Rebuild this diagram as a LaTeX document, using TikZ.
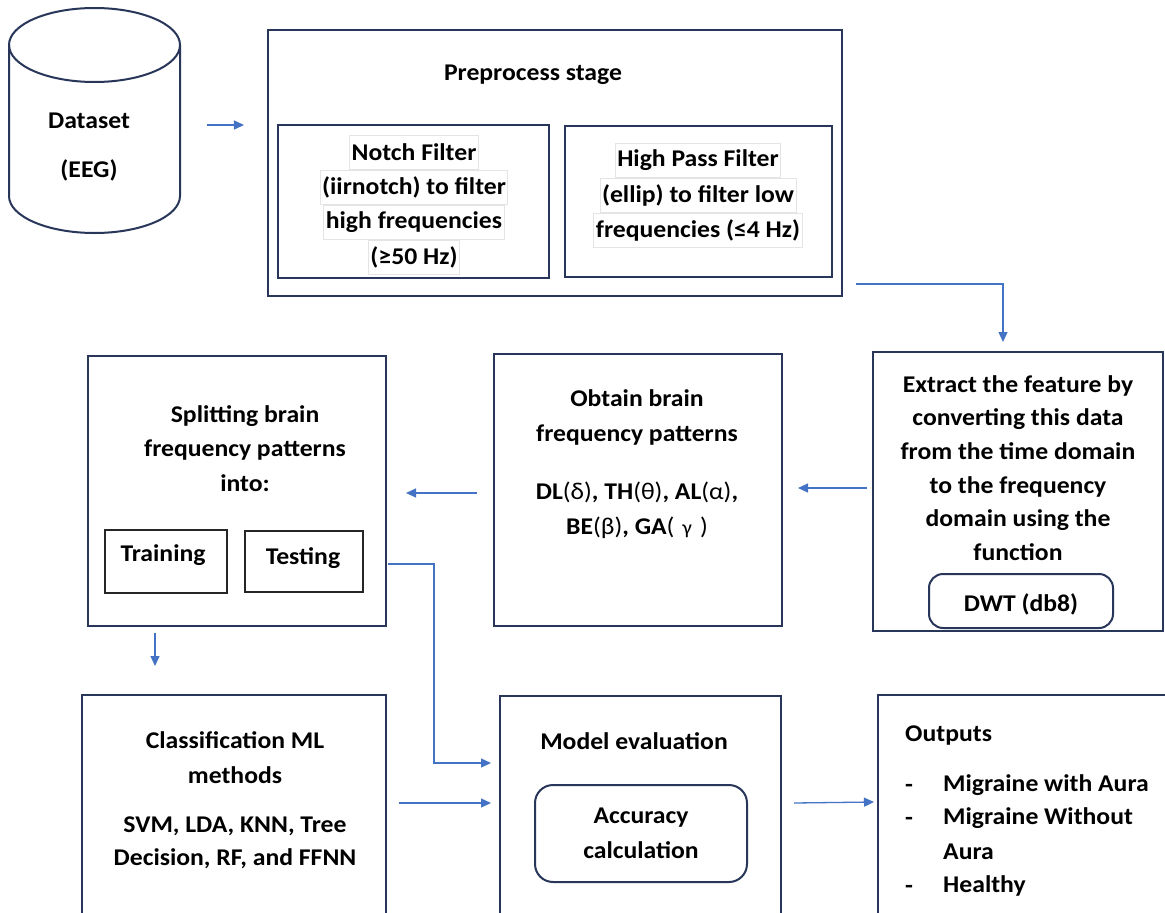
\documentclass[tikz,border=0pt]{standalone}
\usepackage{fontspec}
\setmainfont{Carlito}[FakeStretch=1.07]
\usetikzlibrary{arrows.meta}
\definecolor{navy}{RGB}{40,54,90}
\definecolor{arrblue}{RGB}{68,114,196}
\definecolor{hl}{RGB}{228,228,228}
\begin{document}
\begin{tikzpicture}[x=1bp,y=-1bp,
  font=\fontsize{24bp}{35bp}\selectfont\bfseries,
  box/.style={draw=navy,line width=2bp,inner sep=0pt},
  sub/.style={draw=black!85,line width=1.1bp,inner sep=0pt},
  rbox/.style={draw=navy,line width=2bp,rounded corners=14bp,inner sep=0pt},
  txt/.style={align=center,inner sep=0pt},
  hlline/.style={draw=hl,line width=0.8bp,inner xsep=2bp,inner ysep=0pt,minimum height=34bp},
  arr/.style={draw=arrblue,line width=1.3bp,-{Triangle[length=10bp,width=9bp]}},
  cyl/.style={draw=navy,line width=2bp}
]
\useasboundingbox (0,0) rectangle (1165,913);
\clip (0,0) rectangle (1165,913);
\fill[white] (0,0) rectangle (1165,913);

% Dataset cylinder
\node[minimum width=171bp,minimum height=225bp,inner sep=0pt] (dataset) at (94.5,120.5) {};
\draw[cyl] (94.5,45) ellipse [x radius=85.5bp,y radius=37bp];
\draw[cyl] (9,45) -- (9,196) arc[start angle=180,end angle=360,x radius=85.5bp,y radius=37bp] -- (180,45);
\node[txt] (dstext) at (89,121) {Dataset};
\node[txt] (eegtext) at (89,170) {(EEG)};

% Preprocess stage
\node[box,minimum width=574bp,minimum height=266bp] (pre) at (555,163) {};
\node[txt] (pretitle) at (533,75) {Preprocess stage};
\node[box,minimum width=271bp,minimum height=153bp] (notch) at (413.5,201.5) {};
\node[hlline] (n1) at (414,152) {Notch Filter};
\node[hlline] (n2) at (414,187) {(iirnotch) to filter};
\node[hlline] (n3) at (414,222) {high frequencies};
\node[hlline] (n4) at (414,257) {(≥50 Hz)};
\node[box,minimum width=267bp,minimum height=151bp] (hpf) at (698.5,201.5) {};
\node[hlline] (h1) at (698,160) {High Pass Filter};
\node[hlline] (h2) at (698,195) {(ellip) to filter low};
\node[hlline] (h3) at (698,230) {frequencies (≤4 Hz)};

% Extract feature
\node[box,minimum width=290bp,minimum height=279bp] (extract) at (1018,491.5) {};
\node[txt,font=\fontsize{24bp}{33.6bp}\selectfont\bfseries] (extext) at (1018,468)
  {Extract the feature by\\converting this data\\from the time domain\\to the frequency\\domain using the\\function};
\node[rbox,minimum width=184bp,minimum height=54bp] (dwt) at (1021,601) {};
\node[txt] (dwttext) at (1021,604) {DWT (db8)};

% Obtain brain frequency patterns
\node[box,minimum width=288bp,minimum height=272bp] (obtain) at (638,490) {};
\node[txt] (obtext) at (637,417.5) {Obtain brain\\frequency patterns};
\node[txt] (greek) at (637,510) {DL{\mdseries(δ)}, TH{\mdseries(θ)}, AL{\mdseries(α)},\\BE{\mdseries(β)}, GA{\mdseries(\,\,{\fontsize{20bp}{35bp}\selectfont γ}\,\,)}};

% Splitting
\node[box,minimum width=298bp,minimum height=270bp] (split) at (237,491) {};
\node[txt,font=\fontsize{24bp}{34.5bp}\selectfont\bfseries] (sptext) at (245,448.5) {Splitting brain\\frequency patterns\\into:};
\node[sub,minimum width=122bp,minimum height=63bp] (training) at (166,561.5) {};
\node[txt] (trtext) at (163,555) {Training};
\node[sub,minimum width=118bp,minimum height=61bp] (testing) at (304,561.5) {};
\node[txt] (tetext) at (303,558) {Testing};

% Classification
\node[box,minimum width=304bp,minimum height=245bp] (class) at (234,817.5) {};
\node[txt] (cltext) at (235,758) {Classification ML\\methods};
\node[txt,font=\fontsize{24bp}{33bp}\selectfont\bfseries] (mltext) at (235,842.5) {SVM, LDA, KNN, Tree\\Decision, RF, and FFNN};

% Model evaluation
\node[box,minimum width=281bp,minimum height=244bp] (model) at (640.5,818) {};
\node[txt] (metext) at (634,741) {Model evaluation};
\node[rbox,rounded corners=18bp,minimum width=212bp,minimum height=97bp] (acc) at (641,833.5) {};
\node[txt] (acctext) at (641,833.5) {Accuracy\\calculation};

% Outputs
\node[box,minimum width=292bp,minimum height=245bp] (outputs) at (1024,817.5) {};
\node[txt,anchor=west] (outtitle) at (905,736) {Outputs};
\node[txt,anchor=west] (d1) at (905,788) {-};
\node[txt,anchor=west] (o1) at (943,785) {Migraine with Aura};
\node[txt,anchor=west] (d2) at (905,821) {-};
\node[txt,anchor=west] (o2) at (943,818) {Migraine Without};
\node[txt,anchor=west] (o3) at (943,852) {Aura};
\node[txt,anchor=west] (d3) at (905,889) {-};
\node[txt,anchor=west] (o4) at (943,886) {Healthy};

% Connectors
\draw[arr] ([shift={(27,4.5)}]dataset.east) -- ([shift={(-23,4.5)}]dataset.east -| pre.west);
\draw[arr] ([shift={(13,-13)}]pre.south east) -| ([shift={(-15,-9)}]extract.north);
\draw[arr] ([shift={(-5,-3.5)}]extract.west) -- ([shift={(15,-3.5)}]extract.west -| obtain.east);
\draw[arr] ([shift={(-16,3)}]obtain.west) -- ([shift={(19,3)}]obtain.west -| split.east);
\draw[arr] ([shift={(-82,6)}]split.south) -- ([shift={(-79,-28)}]class.north);
\draw[arr] ([shift={(1,2.5)}]split.east |- testing.east) -- ++(46,0) |- ([shift={(-8,68)}]model.north west);
\draw[arr] ([shift={(12,-14.5)}]class.east) -- ([shift={(-8,-15)}]model.west);
\draw[arr] ([shift={(12,-15)}]model.east) -- ([shift={(-3,-15.5)}]outputs.west);
\end{tikzpicture}
\end{document}
